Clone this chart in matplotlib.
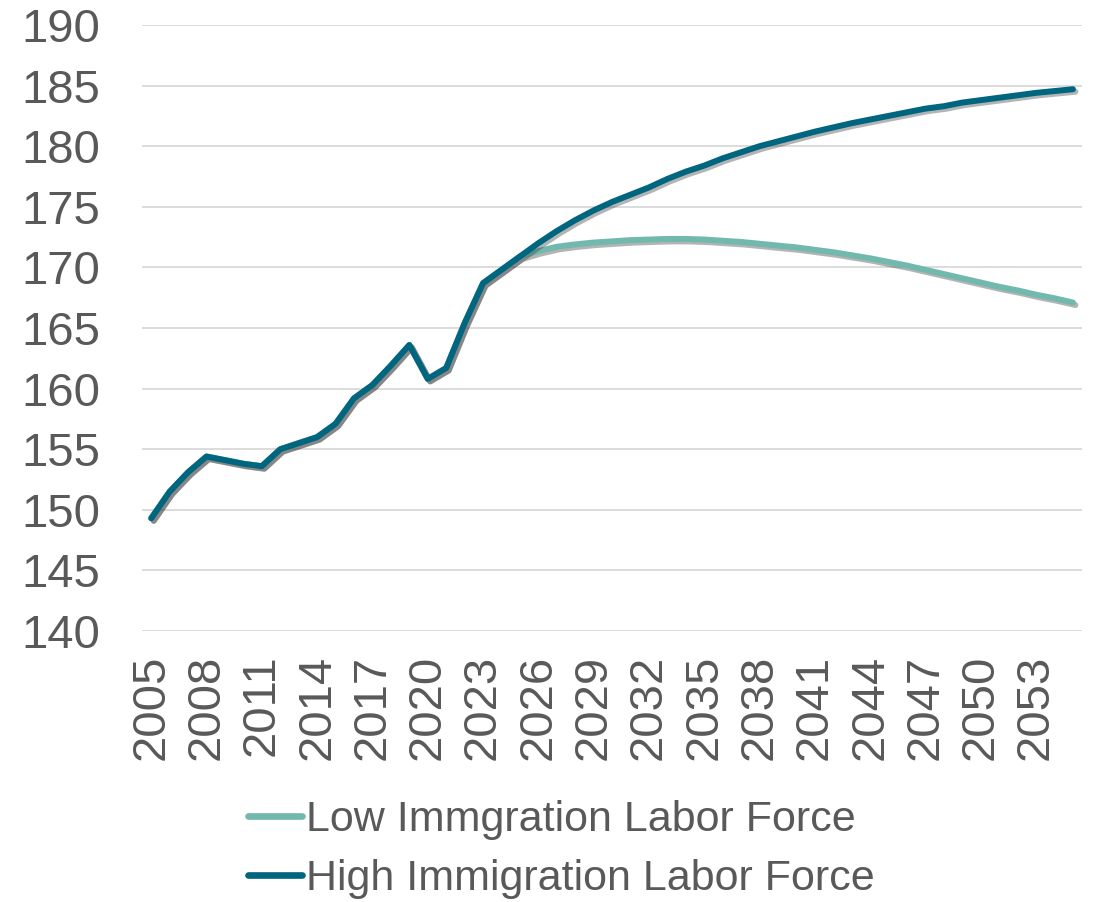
import matplotlib
matplotlib.use('Agg')
import matplotlib.pyplot as plt
import matplotlib.patheffects as pe
import numpy as np

years = list(range(2005, 2056))

high_imm = [149.3, 151.5, 153.1, 154.4, 154.1, 153.8, 153.6, 155.0, 155.5, 156.0,
            157.1, 159.2, 160.3, 161.9, 163.6, 160.8, 161.7, 165.4, 168.7, 169.8,
            170.9, 172.0, 173.0, 173.9, 174.7, 175.4, 176.0, 176.6, 177.3, 177.9,
            178.4, 179.0, 179.5, 180.0, 180.4, 180.8, 181.2, 181.55, 181.9, 182.2,
            182.5, 182.8, 183.1, 183.3, 183.6, 183.8, 184.0, 184.2, 184.4, 184.55,
            184.7]

low_imm = [149.3, 151.5, 153.1, 154.4, 154.1, 153.8, 153.6, 155.0, 155.5, 156.0,
           157.1, 159.2, 160.3, 161.9, 163.6, 160.8, 161.7, 165.4, 168.7, 169.8,
           170.9, 171.35, 171.7, 171.9, 172.05, 172.15, 172.25, 172.3, 172.35, 172.35,
           172.3, 172.2, 172.1, 171.95, 171.8, 171.65, 171.45, 171.25, 171.0, 170.75,
           170.45, 170.15, 169.8, 169.45, 169.1, 168.75, 168.4, 168.1, 167.75, 167.45,
           167.1]

labels = ['Low Immgration Labor Force', 'High Immigration Labor Force']
colors = ['#72B9AD', '#006680']
text_col = '#595959'

plt.rcParams['font.family'] = ['Liberation Sans', 'DejaVu Sans']

fig = plt.figure(figsize=(10.94, 9.02), dpi=100)
ax = fig.add_axes([0.1298, 0.3004, 0.8594, 0.6719])

x = np.arange(len(years))
shadow = [pe.SimpleLineShadow(offset=(1.8, -1.8), alpha=0.4, shadow_color='#444444'), pe.Normal()]

ax.plot(x, low_imm, color=colors[0], lw=4.3, solid_capstyle='round', solid_joinstyle='round',
        label=labels[0], path_effects=shadow, zorder=3)
ax.plot(x, high_imm, color=colors[1], lw=4.3, solid_capstyle='round', solid_joinstyle='round',
        label=labels[1], path_effects=shadow, zorder=4)

ax.set_xlim(-0.5, len(years) - 0.5)
ax.set_ylim(140, 190)
ax.set_yticks(np.arange(140, 191, 5))
ax.set_xticks(x[::3])
ax.set_xticklabels([str(y) for y in years[::3]], rotation=90)

ax.grid(axis='y', color='#D9D9D9', lw=1.3)
ax.set_axisbelow(True)
for s in ax.spines.values():
    s.set_visible(False)
ax.tick_params(axis='both', length=0, labelsize=34, labelcolor=text_col)
ax.tick_params(axis='y', pad=30)
ax.tick_params(axis='x', pad=17)

leg = fig.legend(loc='center', bbox_to_anchor=(0.513, 0.058), ncol=1, frameon=False,
                 fontsize=31, handlelength=1.25, handletextpad=0.1, labelspacing=0.45)
for t in leg.get_texts():
    t.set_color(text_col)
for h in leg.get_lines():
    h.set_linewidth(4.8)
    h.set_solid_capstyle('round')
    h.set_path_effects([])

fig.savefig('out.png', dpi=100)
